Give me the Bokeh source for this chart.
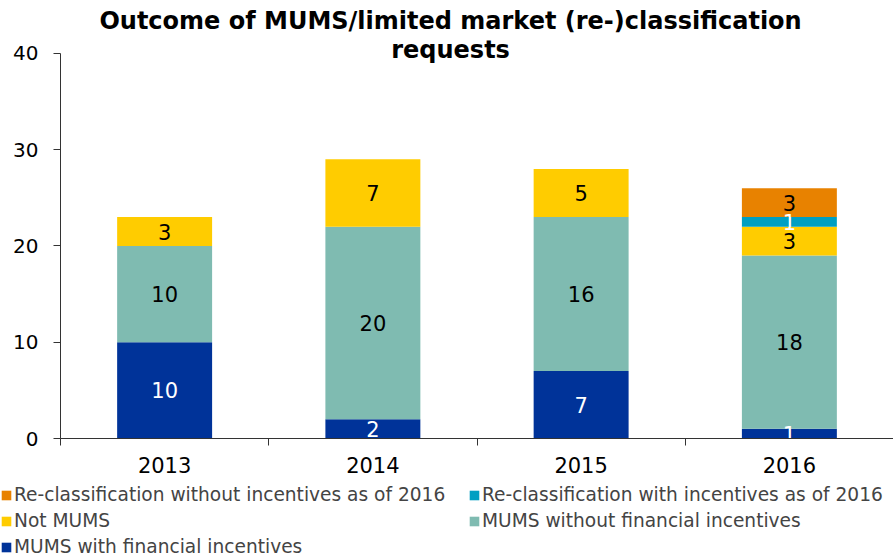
from bokeh.plotting import figure
from bokeh.models import (ColumnDataSource, Legend, LegendItem, FixedTicker, Label)
from bokeh.core.properties import value
from bokeh.embed import file_html
from bokeh.resources import INLINE

years = ["2013", "2014", "2015", "2016"]
mums_with_fin = [10, 2, 7, 1]
mums_without_fin = [10, 20, 16, 18]
not_mums = [3, 7, 5, 3]
reclass_with = [0, 0, 0, 1]
reclass_without = [0, 0, 0, 3]

series_names = ["MUMS with financial incentives", "MUMS without financial incentives",
                "Not MUMS", "Re-classification with incentives as of 2016",
                "Re-classification without incentives as of 2016"]
series_values = [mums_with_fin, mums_without_fin, not_mums, reclass_with, reclass_without]
colors = ["#003399", "#7FBBB1", "#FFCC00", "#009FC2", "#E88200"]
label_colors = ["white", "black", "black", "white", "black"]
keys = ["s0", "s1", "s2", "s3", "s4"]
y_ticks = [0, 10, 20, 30, 40]

title_lines = ["Outcome of MUMS/limited market (re-)classification", "requests"]

FONT = "DejaVu Sans"

# category slots on a numeric axis: centre of slot i is i + 0.5
xpos = [i + 0.5 for i in range(len(years))]

data = {"x": xpos}
for k, v in zip(keys, series_values):
    data[k] = v
source = ColumnDataSource(data)

# y range extends above 40 to leave room for the title inside the frame
p = figure(x_range=(0, len(years)), y_range=(0, 45.5), width=893, height=484,
           output_backend="svg", toolbar_location=None,
           min_border_left=60, min_border_right=0, min_border_top=0,
           min_border_bottom=46, outline_line_color=None)
p.title = None

for txt, ty in zip(title_lines, [43.42, 40.31]):
    p.add_layout(Label(x=1.873, y=ty, text=txt, text_align="center",
                       text_baseline="middle", text_font=FONT, text_font_size="24px",
                       text_font_style="bold", text_color="black"))

renderers = p.vbar_stack(keys, x="x", width=0.456, color=colors, source=source,
                         line_color=None)

# segment labels
for i, k in enumerate(keys):
    xs, ys, ts = [], [], []
    for j in range(len(years)):
        val = series_values[i][j]
        if val == 0:
            continue
        base = sum(series_values[m][j] for m in range(i))
        xs.append(xpos[j])
        ys.append(base + val / 2)
        ts.append(str(val))
    src = ColumnDataSource(dict(x=xs, y=ys, t=ts))
    p.text(x="x", y="y", text="t", source=src, text_align="center",
           text_baseline="middle", text_font=value(FONT), text_font_size="21px",
           text_color=label_colors[i])

p.xgrid.visible = False
p.ygrid.visible = False

# y axis
ya = p.yaxis[0]
ya.ticker = FixedTicker(ticks=y_ticks)
ya.bounds = (y_ticks[0], y_ticks[-1])
ya.minor_tick_line_color = None
ya.major_tick_in = 0
ya.major_tick_out = 7
ya.major_label_standoff = 15
ya.major_label_text_font = FONT
ya.major_label_text_font_size = "20px"
ya.major_label_text_color = "black"
ya.axis_line_color = "#333333"
ya.major_tick_line_color = "#333333"

# x axis: labels at slot centres, ticks at slot boundaries
xa = p.xaxis[0]
xa.ticker = FixedTicker(ticks=xpos, minor_ticks=list(range(len(years) + 1)))
xa.major_label_overrides = {x: y for x, y in zip(xpos, years)}
xa.major_tick_line_color = None
xa.major_tick_in = 0
xa.major_tick_out = 7
xa.minor_tick_in = 0
xa.minor_tick_out = 7
xa.minor_tick_line_color = "#333333"
xa.axis_line_color = "#333333"
xa.major_label_standoff = 11
xa.major_label_text_font = FONT
xa.major_label_text_font_size = "21px"
xa.major_label_text_color = "black"

# legend in its own strip below the chart (proxy glyphs are hidden)
lg = figure(x_range=(0, len(years)), y_range=(-2, -1), width=893, height=75,
            output_backend="svg", toolbar_location=None, outline_line_color=None,
            min_border=0, x_axis_location=None, y_axis_location=None)
lg.title = None
lg.xgrid.visible = False
lg.ygrid.visible = False
order = [4, 2, 0, 3, 1]  # fills column by column
items = []
for i in order:
    r = lg.vbar(x="x", top=keys[i], width=0.456, color=colors[i], source=source,
                line_color=None)
    r.visible = False
    items.append(LegendItem(label=series_names[i], renderers=[r]))
legend = Legend(items=items, ncols=2, location="top_left", glyph_width=12,
                glyph_height=12, label_text_font=FONT, label_text_font_size="18.6px",
                label_standoff=2, spacing=5, padding=0, margin=0,
                border_line_color=None, background_fill_alpha=0,
                label_height=21, label_width=449, label_text_baseline="middle",
                click_policy="none")
lg.add_layout(legend, "center")

open("out.html", "w").write(file_html([p, lg], INLINE))
